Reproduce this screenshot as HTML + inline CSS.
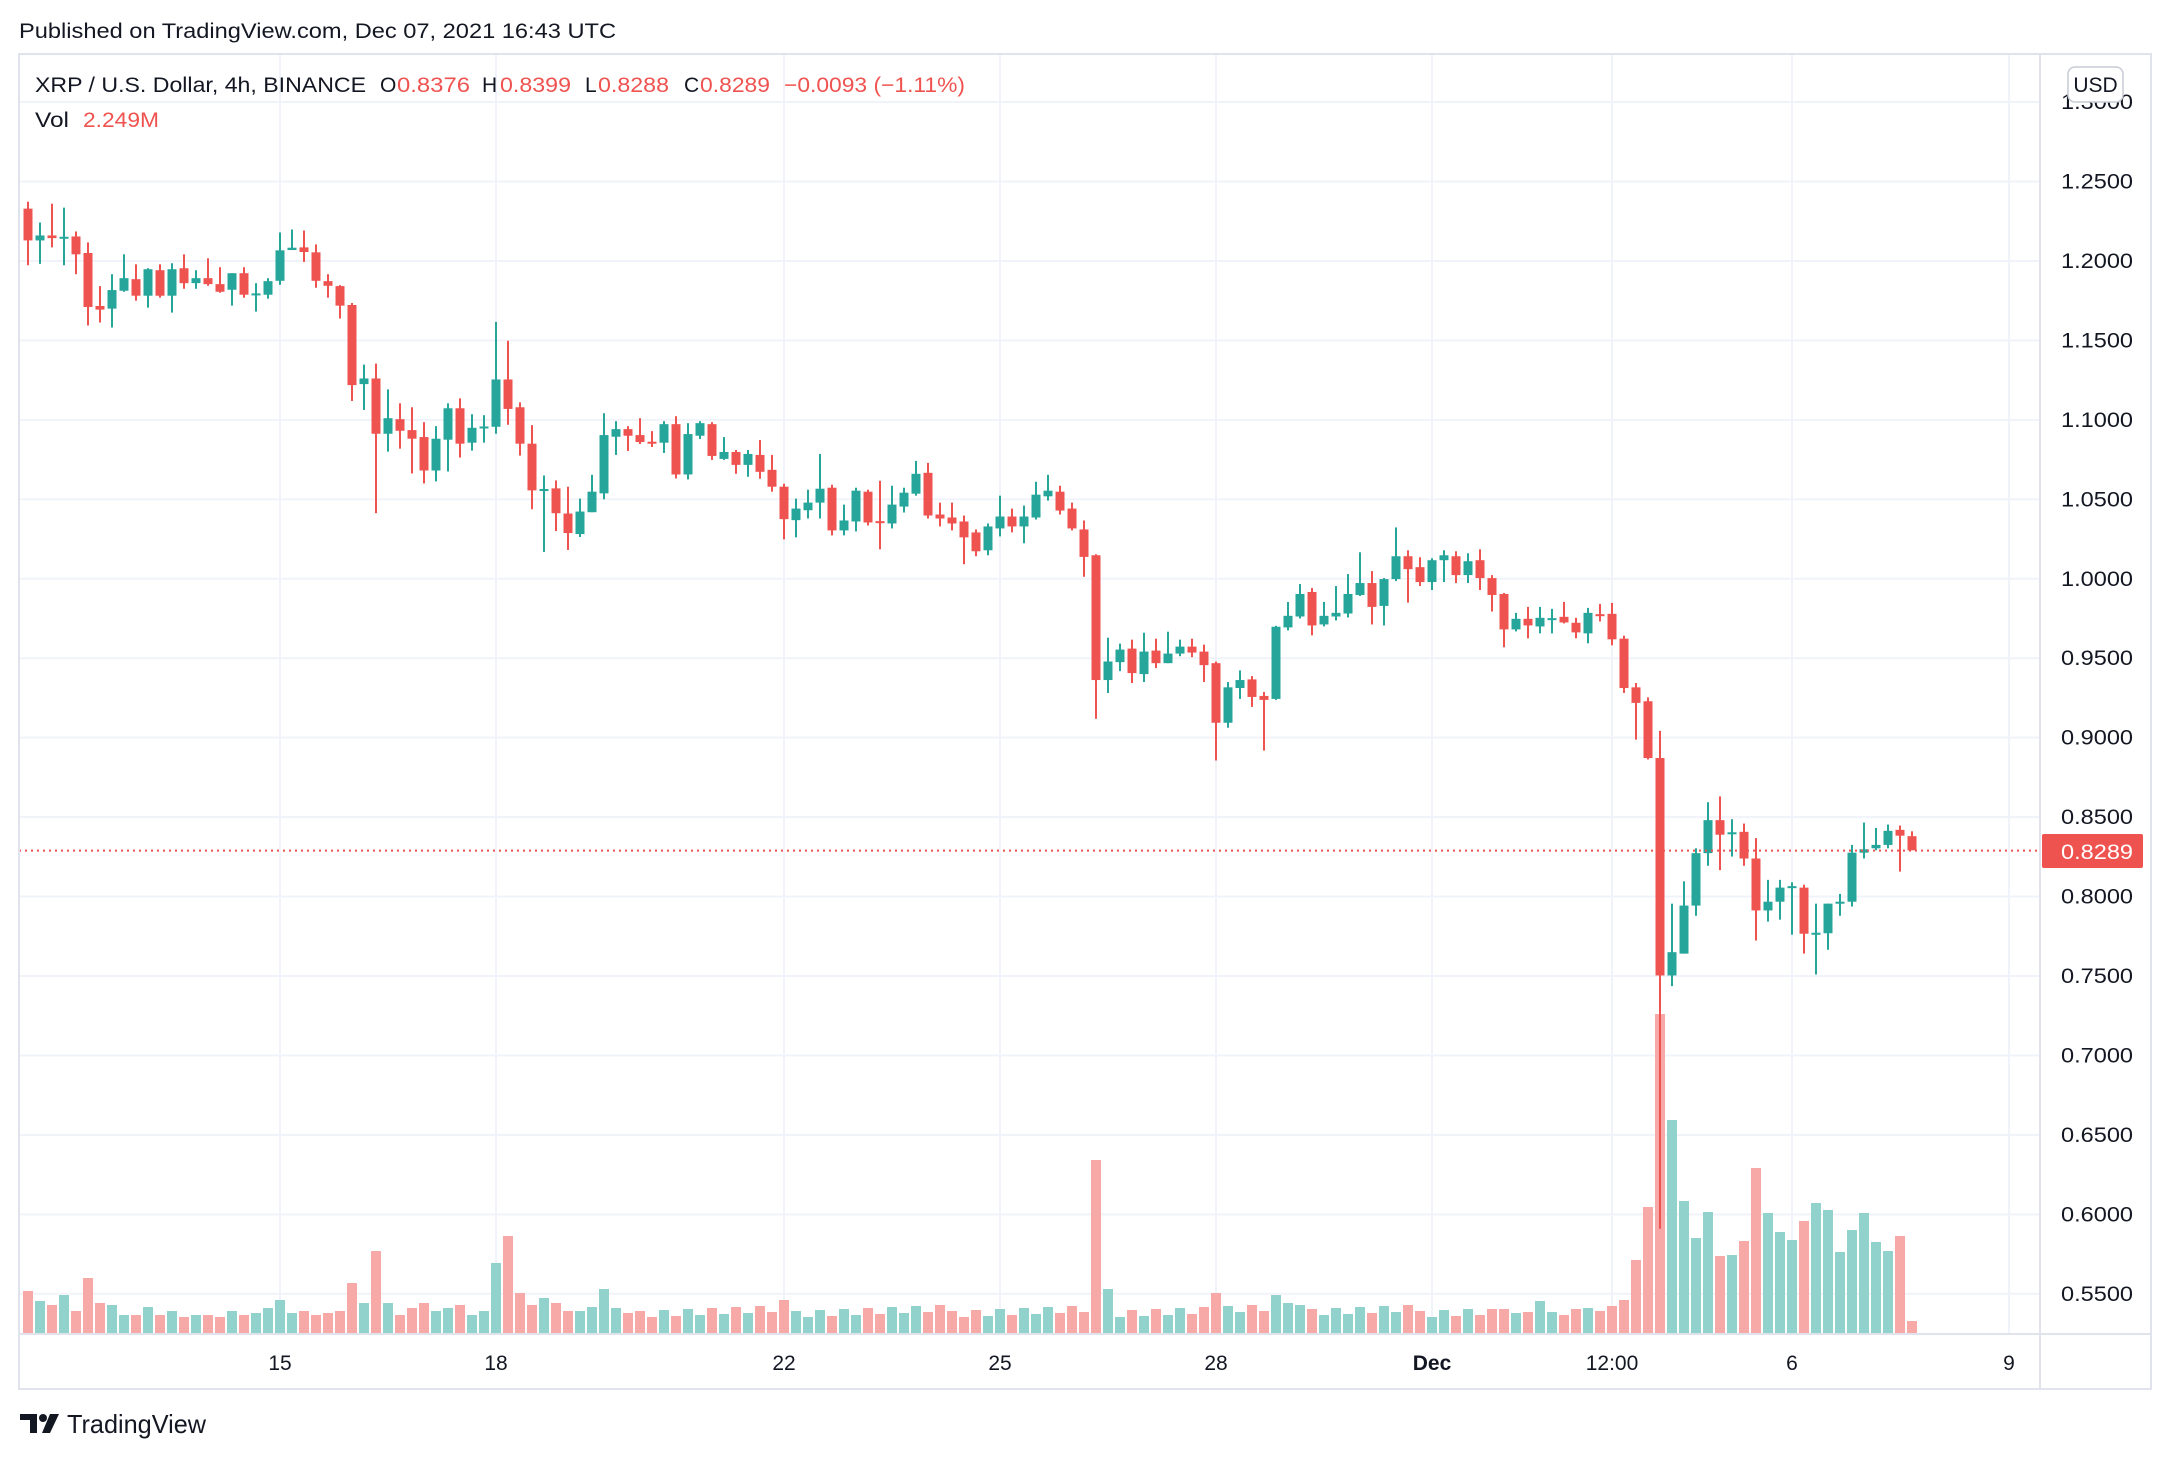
<!DOCTYPE html>
<html><head><meta charset="utf-8"><style>
html,body{margin:0;padding:0;background:#fff;}
svg{display:block;font-family:"Liberation Sans",sans-serif;}
</style></head><body>
<svg id="s" width="2172" height="1460" viewBox="0 0 2172 1460" xmlns="http://www.w3.org/2000/svg">
<rect width="2172" height="1460" fill="#fff"/>
<g id="grid"></g>
<g id="vol"></g>
<g id="cdl"></g>
<line x1="19" y1="850.6" x2="2040" y2="850.6" stroke="#ef5350" stroke-width="2" stroke-dasharray="2,4"/>
<rect x="19" y="54" width="2132" height="1335" fill="none" stroke="#e0e3eb" stroke-width="2"/>
<line x1="2040" y1="54" x2="2040" y2="1389" stroke="#e0e3eb" stroke-width="2"/>
<line x1="19" y1="1334" x2="2151" y2="1334" stroke="#e0e3eb" stroke-width="2"/>
<g id="ylab" font-size="21" fill="#131722"></g>
<rect x="2068" y="67" width="55" height="35" rx="7" fill="#fff" stroke="#c8ccd6" stroke-width="1.5"/>
<text x="2095.5" y="92" font-size="21" fill="#131722" text-anchor="middle">USD</text>
<rect x="2042" y="834" width="101" height="34" rx="2" fill="#ef5350"/>
<text x="2061" y="859" font-size="21" fill="#fff" textLength="72" lengthAdjust="spacingAndGlyphs">0.8289</text>
<g id="xlab" font-size="21" fill="#131722" text-anchor="middle"></g>
<text x="19" y="38" font-size="21" fill="#131722" textLength="597" lengthAdjust="spacingAndGlyphs">Published on TradingView.com, Dec 07, 2021 16:43 UTC</text>
<g font-size="21">
<text x="35" y="92" fill="#131722" textLength="331" lengthAdjust="spacingAndGlyphs">XRP / U.S. Dollar, 4h, BINANCE</text>
<text x="380" y="92" fill="#131722">O</text><text x="397" y="92" fill="#ef5350" textLength="73" lengthAdjust="spacingAndGlyphs">0.8376</text>
<text x="482" y="92" fill="#131722">H</text><text x="500" y="92" fill="#ef5350" textLength="71" lengthAdjust="spacingAndGlyphs">0.8399</text>
<text x="585" y="92" fill="#131722">L</text><text x="598" y="92" fill="#ef5350" textLength="71" lengthAdjust="spacingAndGlyphs">0.8288</text>
<text x="684" y="92" fill="#131722">C</text><text x="700" y="92" fill="#ef5350" textLength="70" lengthAdjust="spacingAndGlyphs">0.8289</text>
<text x="784" y="92" fill="#ef5350" textLength="181" lengthAdjust="spacingAndGlyphs">−0.0093 (−1.11%)</text>
<text x="35" y="127" fill="#131722" textLength="34" lengthAdjust="spacingAndGlyphs">Vol</text>
<text x="83" y="127" fill="#ef5350" textLength="76" lengthAdjust="spacingAndGlyphs">2.249M</text>
</g>
<g fill="#131722">
<path d="M20 1414 H37 V1433 H30 V1420 H20 Z"/>
<circle cx="43" cy="1418" r="4"/>
<path d="M50 1414 H59 L50 1433 H42 Z"/>
</g>
<text x="67" y="1433" font-size="26" fill="#131722" textLength="139" lengthAdjust="spacingAndGlyphs">TradingView</text>
</svg>
<script>
(function(){
var NS="http://www.w3.org/2000/svg";
function el(p,t,a){var e=document.createElementNS(NS,t);for(var k in a)e.setAttribute(k,a[k]);p.appendChild(e);return e;}
function Y(p){return 181.5+(1.25-p)*1589;}
var g=document.getElementById('grid');
for(var p=1.30;p>0.53;p-=0.05){var y=Y(p);el(g,'line',{x1:19,x2:2040,y1:y,y2:y,stroke:'#f0f3fa','stroke-width':2});}
var xs=[[280,'15'],[496,'18'],[784,'22'],[1000,'25'],[1216,'28'],[1432,'Dec'],[1612,'12:00'],[1792,'6'],[2009,'9']];
var xl=document.getElementById('xlab');
xs.forEach(function(a){el(g,'line',{x1:a[0],x2:a[0],y1:54,y2:1334,stroke:'#f0f3fa','stroke-width':2});
var t=el(xl,'text',{x:a[0],y:1370});t.textContent=a[1];if(a[1]=='Dec')t.setAttribute('font-weight','bold');});
var yl=document.getElementById('ylab');
for(var i=0;i<=15;i++){var pp=1.30-i*0.05;var t=el(yl,'text',{x:2061,y:Y(pp)+7,textLength:72,lengthAdjust:'spacingAndGlyphs'});t.textContent=pp.toFixed(4);}
var A=[[84,180,63,255],[180,165,126,251],[165,173,69,201],[171,169,81,255],[168,222,153,282],[218,381,186,437],[378,389,318,428],[386,330,282,443],[332,294,222,335],[297,347,252,362],[347,267,264,383],[270,347,252,353],[347,267,249,398],[264,309,222,326],[309,294,270,326],[294,312,234,317],[312,335,261,338],[329,279,279,377],[279,344,261,353],[342,340,309,395],[344,303,294,356],[302,210,156,314],[209,202,147,209],[201,215,150,245],[216,302,192,323],[303,317,282,353],[318,377,315,416],[375,617,369,665],[614,597,555,692],[597,764,552,1004],[764,717,630,818],[720,755,672,809],[753,779,684,884],[774,875,729,914],[875,779,741,908],[782,687,672,878],[687,794,657,836],[791,746,705,815],[744,742,708,791],[743,600,426,764],[600,689,483,737],[684,794,669,830],[794,935,738,992],[933,931,890,1121],[929,1004,905,1058]];
var B=[[402,461,321,512],[464,396,357,473],[398,336,285,398],[341,165,99,359],[170,147,123,225],[147,167,138,213],[165,186,114,192],[185,187,153,201],[188,132,123,219],[132,284,108,296],[284,162,129,299],[167,129,123,177],[132,228,126,240],[237,216,171,240],[216,255,210,282],[255,222,210,291],[225,276,180,297],[270,321,225,336],[321,419,312,480],[422,387,357,474],[392,369,330,417],[369,327,222,417],[324,453,315,468],[453,423,375,468],[426,333,324,456],[336,429,330,438],[425,427,303,510],[432,375,318,447],[381,339,324,399],[342,282,243,348],[279,408,249,417],[405,417,369,441],[414,432,369,453],[426,474,408,555],[459,516,450,531],[513,441,432,528],[447,411,348,471],[411,441,387,459],[441,411,378,492],[414,345,306,420],[350,333,285,363],[336,393,318,405],[387,447,369,453]];
var C=[[87,170,60,230],[165,542,162,659],[542,486,414,581],[488,450,432,515],[447,521,420,551],[524,456,399,548],[453,491,417,506],[491,462,396,491],[462,441,420,470],[441,459,417,473],[456,497,435,548],[491,671,486,785],[671,564,548,686],[566,542,513,599],[540,593,530,623],[590,602,578,755],[599,381,378,602],[383,348,306,392],[350,282,252,356],[276,377,264,407],[374,348,306,380],[350,339,258,362],[341,282,222,353],[285,249,156,288],[249,321,213,374],[318,237,234,377],[237,168,81,243],[168,207,150,308],[201,246,171,258],[246,180,174,270],[180,165,150,246],[168,225,153,249],[225,183,159,249],[180,234,147,270],[234,285,225,335],[282,389,279,443],[389,357,339,395],[357,377,321,416],[380,354,321,401],[357,355,327,401],[351,368,306,371],[369,398,354,416],[401,339,324,431],[343,345,312,365],[342,419,309,437],[417,566,408,581],[564,611,551,722]];
var D=[[5,122,-3,125],[122,570,66,1092],[570,522,422,592],[525,426,376,525],[426,318,308,447],[318,250,213,344],[250,280,201,353],[277,275,248,325],[274,329,257,344],[329,436,287,498],[436,418,373,459],[418,389,373,455],[388,386,378,486],[389,484,383,525],[484,482,422,568],[483,422,422,517],[422,418,402,447],[418,317,301,428],[317,310,255,329],[308,301,266,312],[301,272,259,308],[270,282,261,356],[283,312,273,312]];
var fa=function(z){return 1.2-(z-242)*0.05/240;},fb=function(z){return 1.10-(z-119)*0.05/240;},fc=function(z){return 1.0-(z-236)*0.05/240;},fd=function(z){return 0.9-(z-80)*0.05/163.7;};
var data=[];
A.forEach(function(r){data.push(r.map(fa));});
B.forEach(function(r){data.push(r.map(fb));});
C.forEach(function(r){data.push(r.map(fc));});
D.forEach(function(r){data.push(r.map(fd));});
var vo={0:42,1:32,2:28,3:38,4:22,5:55,6:30,7:28,8:18,9:18,10:26,11:18,12:22,13:16,14:18,15:18,16:16,17:22,18:18,19:20,20:25,21:33,22:20,23:22,24:18,25:20,26:22,27:50,28:30,29:82,30:30,31:18,32:25,33:30,34:22,35:25,36:28,37:18,38:22,39:70,40:97,41:40,42:28,43:35,44:30,45:22,46:22,47:26,48:44,49:25,50:20,63:33,89:173,90:44,99:40,104:38,105:30,106:28,
122:24,123:24,124:20,125:21,126:32,127:21,128:18,129:24,130:25,131:22,132:27,133:33,134:73,135:126,136:319,137:213,138:132,139:95,140:121,141:77,142:78,143:92,144:165,145:120,146:101,147:93,148:112,149:130,150:123,151:81,152:103,153:120,154:91,155:82,156:97,157:12};
var cg=document.getElementById('cdl'),vg=document.getElementById('vol');
data.forEach(function(d,i){
var x=28+12*i,o=d[0],c=d[1],h=d[2],l=d[3];var up=c>=o;
var col=up?'#26a69a':'#ef5350';
var v=vo[i]!==undefined?vo[i]:(16+((i*7)%13));
el(vg,'rect',{x:x-5,y:1333-v,width:10,height:v,fill:up?'#92d2cc':'#f7a9a7'});
el(cg,'rect',{x:x-1,y:Y(h),width:2,height:Math.max(1,Y(l)-Y(h)),fill:col});
var t=Y(Math.max(o,c)),b=Y(Math.min(o,c));
el(cg,'rect',{x:x-4.5,y:t,width:9,height:Math.max(2,b-t),fill:col});
});
})();
</script>
</body></html>
